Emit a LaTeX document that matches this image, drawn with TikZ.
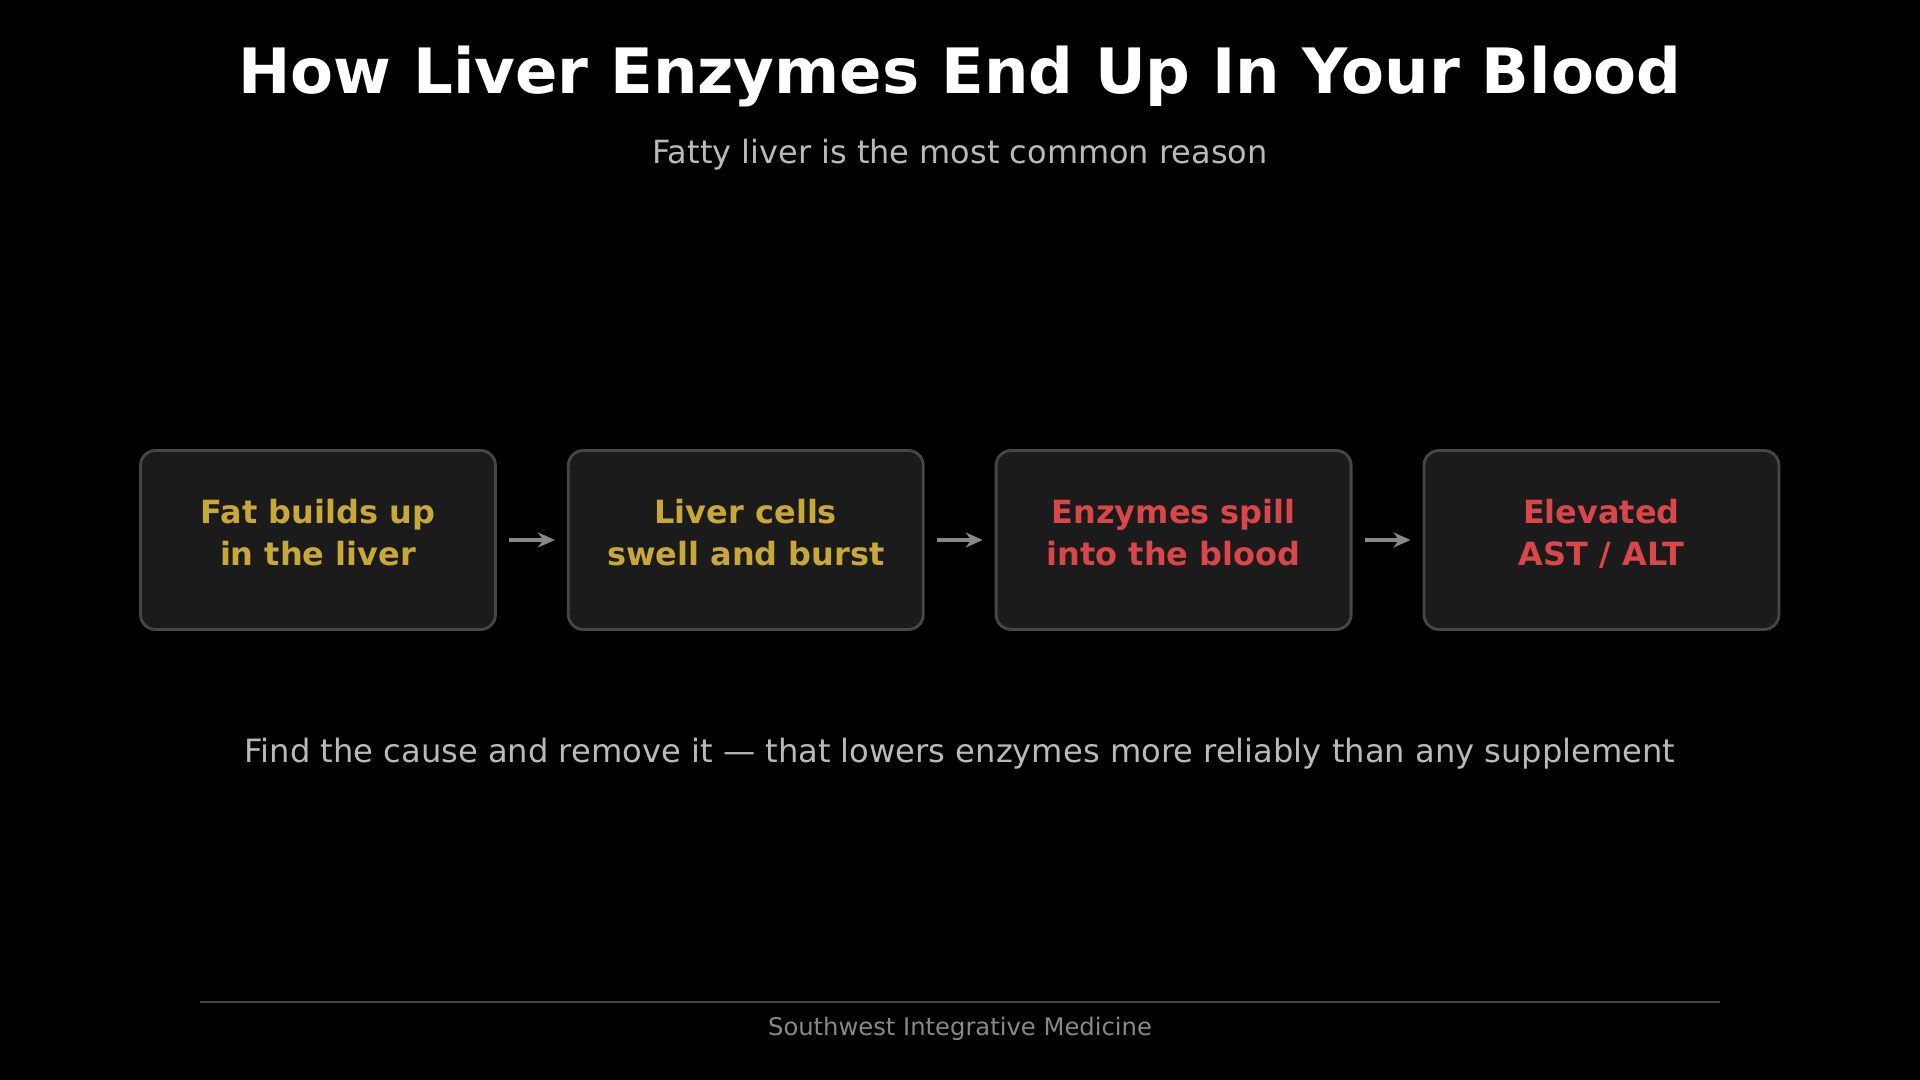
\documentclass[tikz,border=0pt]{standalone}
\usepackage{fontspec}
\setmainfont{DejaVu Sans}
\usetikzlibrary{positioning,arrows.meta}
\definecolor{bgblack}{RGB}{0,0,0}
\definecolor{boxfill}{RGB}{27,27,27}
\definecolor{boxline}{RGB}{70,70,70}
\definecolor{fatyellow}{RGB}{201,168,58}
\definecolor{bloodred}{RGB}{217,71,75}
\definecolor{softgray}{RGB}{185,185,185}
\definecolor{dimgray}{RGB}{136,136,136}

\begin{document}
\begin{tikzpicture}[
    stagebox/.style={draw=boxline, line width=0.8pt, fill=boxfill, rounded corners=0.15cm,
        minimum width=3.55cm, minimum height=1.79cm, align=center, text depth=0.15cm,
        font=\fontsize{9.1pt}{11.8pt}\selectfont\bfseries},
    flow/.style={-{Stealth[length=0.17cm,width=0.15cm]}, draw=dimgray, line width=1.2pt,
        shorten >=0.12cm, shorten <=0.12cm}
]
    % Background
    \fill[bgblack] (0,0) rectangle (19.2,10.8);

    % Title
    \node[text=white, font=\fontsize{17.8pt}{20pt}\selectfont\bfseries] (title) at (9.6,10.03) {How Liver Enzymes End Up In Your Blood};
    \node[text=softgray, font=\fontsize{9.1pt}{12pt}\selectfont] (subtitle) at (9.6,9.25) {Fatty liver is the most common reason};

    % Stages
    \node[stagebox, text=fatyellow] (fat) at (3.18,5.4) {Fat builds up\\in the liver};
    \node[stagebox, text=fatyellow, right=0.7cm of fat] (cells) {Liver cells\\swell and burst};
    \node[stagebox, text=bloodred, right=0.7cm of cells] (spill) {Enzymes spill\\into the blood};
    \node[stagebox, text=bloodred, right=0.7cm of spill] (elevated) {Elevated\\AST / ALT};

    \draw[flow] (fat) -- (cells);
    \draw[flow] (cells) -- (spill);
    \draw[flow] (spill) -- (elevated);

    % Bottom note
    \node[text=softgray, font=\fontsize{9.15pt}{12pt}\selectfont] (note) at (9.6,3.26) {Find the cause and remove it — that lowers enzymes more reliably than any supplement};

    % Footer
    \coordinate (ruleL) at (2.0,0.78);
    \coordinate (ruleR) at (17.2,0.78);
    \draw[draw=boxline, line width=0.8pt] (ruleL) -- (ruleR);
    \node[text=dimgray, font=\fontsize{6.9pt}{9pt}\selectfont] (footer) at (9.6,0.51) {Southwest Integrative Medicine};
\end{tikzpicture}
\end{document}
